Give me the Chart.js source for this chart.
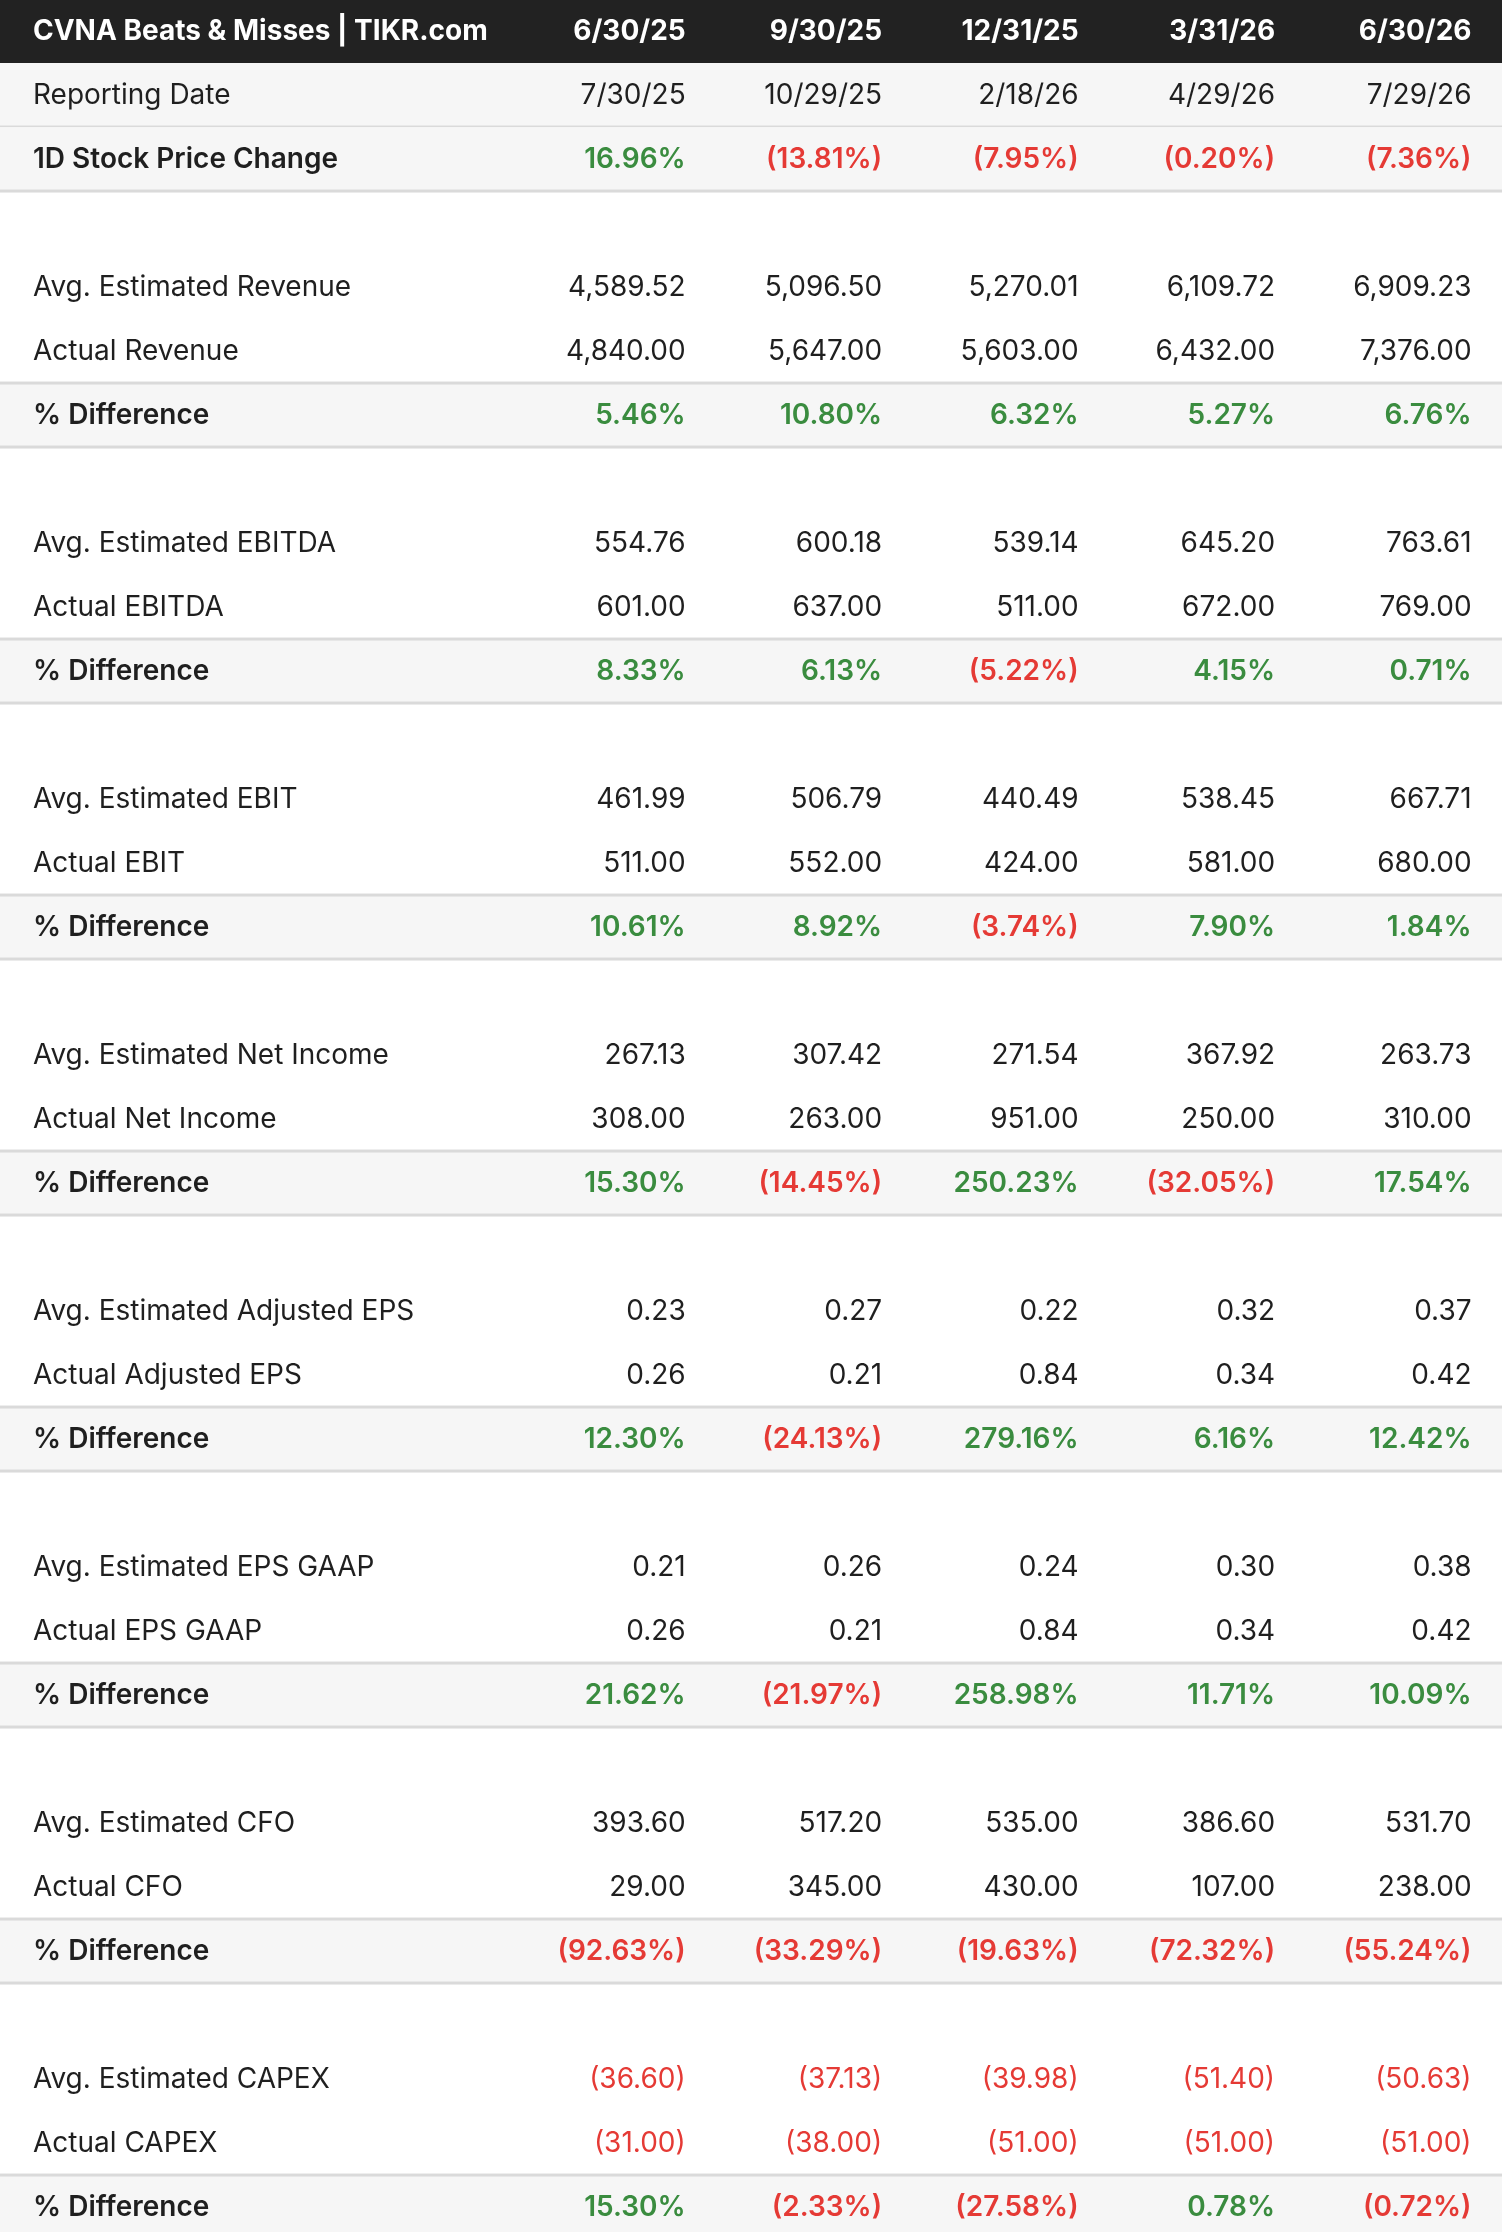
<!DOCTYPE html>
<html>
<head>
<meta charset="utf-8">
<script src="https://cdn.jsdelivr.net/npm/chart.js@4/dist/chart.umd.min.js"></script>
<style>
  html, body { margin: 0; padding: 0; background: #fff; }
  #wrap { width: 1502px; height: 2232px; position: relative; }
</style>
</head>
<body>
<div id="wrap"><canvas id="tbl"></canvas></div>
<script>
// header / period columns
const title = "CVNA Beats & Misses | TIKR.com";
const periods = ["6/30/25", "9/30/25", "12/31/25", "3/31/26", "6/30/26"];
const reportDates = ["7/30/25", "10/29/25", "2/18/26", "4/29/26", "7/29/26"];
const priceChange = [16.96, -13.81, -7.95, -0.20, -7.36];

const metricNames = ["Revenue", "EBITDA", "EBIT", "Net Income", "Adjusted EPS", "EPS GAAP", "CFO", "CAPEX"];

const estRevenue = [4589.52, 5096.50, 5270.01, 6109.72, 6909.23];
const actRevenue = [4840.00, 5647.00, 5603.00, 6432.00, 7376.00];
const diffRevenue = [5.46, 10.80, 6.32, 5.27, 6.76];

const estEbitda = [554.76, 600.18, 539.14, 645.20, 763.61];
const actEbitda = [601.00, 637.00, 511.00, 672.00, 769.00];
const diffEbitda = [8.33, 6.13, -5.22, 4.15, 0.71];

const estEbit = [461.99, 506.79, 440.49, 538.45, 667.71];
const actEbit = [511.00, 552.00, 424.00, 581.00, 680.00];
const diffEbit = [10.61, 8.92, -3.74, 7.90, 1.84];

const estNetIncome = [267.13, 307.42, 271.54, 367.92, 263.73];
const actNetIncome = [308.00, 263.00, 951.00, 250.00, 310.00];
const diffNetIncome = [15.30, -14.45, 250.23, -32.05, 17.54];

const estAdjEps = [0.23, 0.27, 0.22, 0.32, 0.37];
const actAdjEps = [0.26, 0.21, 0.84, 0.34, 0.42];
const diffAdjEps = [12.30, -24.13, 279.16, 6.16, 12.42];

const estGaapEps = [0.21, 0.26, 0.24, 0.30, 0.38];
const actGaapEps = [0.26, 0.21, 0.84, 0.34, 0.42];
const diffGaapEps = [21.62, -21.97, 258.98, 11.71, 10.09];

const estCfo = [393.60, 517.20, 535.00, 386.60, 531.70];
const actCfo = [29.00, 345.00, 430.00, 107.00, 238.00];
const diffCfo = [-92.63, -33.29, -19.63, -72.32, -55.24];

const estCapex = [-36.60, -37.13, -39.98, -51.40, -50.63];
const actCapex = [-31.00, -38.00, -51.00, -51.00, -51.00];
const diffCapex = [15.30, -2.33, -27.58, 0.78, -0.72];

const estimates = [estRevenue, estEbitda, estEbit, estNetIncome, estAdjEps, estGaapEps, estCfo, estCapex];
const actuals = [actRevenue, actEbitda, actEbit, actNetIncome, actAdjEps, actGaapEps, actCfo, actCapex];
const diffs = [diffRevenue, diffEbitda, diffEbit, diffNetIncome, diffAdjEps, diffGaapEps, diffCfo, diffCapex];

const GREEN = "#3a8c3f";
const RED = "#e53a35";
const INK = "#1f1f1f";
const FONT = "Inter, 'Noto Sans', sans-serif";

function fmtNum(v) {
  let s = Math.abs(v).toLocaleString("en-US", { minimumFractionDigits: 2, maximumFractionDigits: 2 });
  return v < 0 ? "(" + s + ")" : s;
}
function fmtPct(v) {
  let s = Math.abs(v).toFixed(2) + "%";
  return v < 0 ? "(" + s + ")" : s;
}

// build rows: kind = header | shade | shadeBold | plain | diff | gap
let rows = [];
rows.push({ kind: "header", label: title, cells: periods.map(p => ({ text: p, color: "#fff" })) });
rows.push({ kind: "shade", label: "Reporting Date", cells: reportDates.map(d => ({ text: d, color: INK })) });
rows.push({ kind: "shadeBold", label: "1D Stock Price Change", cells: priceChange.map(v => ({ text: fmtPct(v), color: v < 0 ? RED : GREEN })) });
metricNames.forEach((name, m) => {
  rows.push({ kind: "gap", label: "", cells: [] });
  rows.push({ kind: "plain", label: "Avg. Estimated " + name, cells: estimates[m].map(v => ({ text: fmtNum(v), color: v < 0 ? RED : INK })) });
  rows.push({ kind: "plain", label: "Actual " + name, cells: actuals[m].map(v => ({ text: fmtNum(v), color: v < 0 ? RED : INK })) });
  rows.push({ kind: "diff", label: "% Difference", cells: diffs[m].map(v => ({ text: fmtPct(v), color: v < 0 ? RED : GREEN })) });
});

// one point per cell, placed by the scales: x = column number, y = row middle
let points = [];
rows.forEach((r, i) => {
  r.cells.forEach((c, j) => {
    points.push({ x: j + 1, y: i + 0.5, text: c.text, color: c.color, row: i });
  });
});

function fontFor(kind) {
  if (kind === "header") return "bold 28px " + FONT;
  if (kind === "diff" || kind === "shadeBold") return "600 28px " + FONT;
  return "400 28px " + FONT;
}

const tablePlugin = {
  id: "tablePlugin",
  beforeDatasetsDraw(chart) {
    const ctx = chart.ctx;
    const ys = chart.scales.y;
    const area = chart.chartArea;
    const w = area.right - area.left;
    ctx.save();
    rows.forEach((r, i) => {
      const top = ys.getPixelForValue(i);
      const bot = ys.getPixelForValue(i + 1);
      if (r.kind === "header") {
        ctx.fillStyle = "#222222";
        ctx.fillRect(area.left, area.top, w, bot - area.top);
      } else if (r.kind === "shade" || r.kind === "shadeBold" || r.kind === "diff") {
        ctx.fillStyle = "#f6f6f6";
        ctx.fillRect(area.left, top, w, bot - top);
        ctx.fillStyle = "#dadada";
        ctx.fillRect(area.left, bot - 1.5, w, 3);
        if (r.kind === "diff") ctx.fillRect(area.left, top - 1.5, w, 3);
      }
    });
    // row labels
    ctx.textBaseline = "middle";
    ctx.textAlign = "left";
    rows.forEach((r, i) => {
      if (!r.label) return;
      const y = ys.getPixelForValue(i + 0.5);
      ctx.font = fontFor(r.kind);
      ctx.fillStyle = r.kind === "header" ? "#ffffff" : INK;
      ctx.fillText(r.label, area.left + 33, y + 1);
    });
    ctx.restore();
  },
  afterDatasetsDraw(chart) {
    const ctx = chart.ctx;
    const meta = chart.getDatasetMeta(0);
    ctx.save();
    ctx.textBaseline = "middle";
    ctx.textAlign = "right";
    meta.data.forEach((el, k) => {
      const p = points[k];
      ctx.font = fontFor(rows[p.row].kind);
      ctx.fillStyle = p.color;
      ctx.fillText(p.text, el.x, el.y + 1);
    });
    ctx.restore();
  }
};

new Chart(document.getElementById("tbl"), {
  type: "scatter",
  data: {
    datasets: [{
      data: points,
      pointRadius: 0,
      pointHoverRadius: 0
    }]
  },
  options: {
    responsive: true,
    maintainAspectRatio: false,
    animation: false,
    events: [],
    layout: { padding: 0 },
    plugins: { legend: { display: false }, tooltip: { enabled: false } },
    scales: {
      x: { type: "linear", display: false, min: -2.49, max: 5.155 },
      y: { type: "linear", display: false, reverse: true, min: 0.015, max: 34.89 }
    }
  },
  plugins: [tablePlugin]
});
</script>
</body>
</html>
